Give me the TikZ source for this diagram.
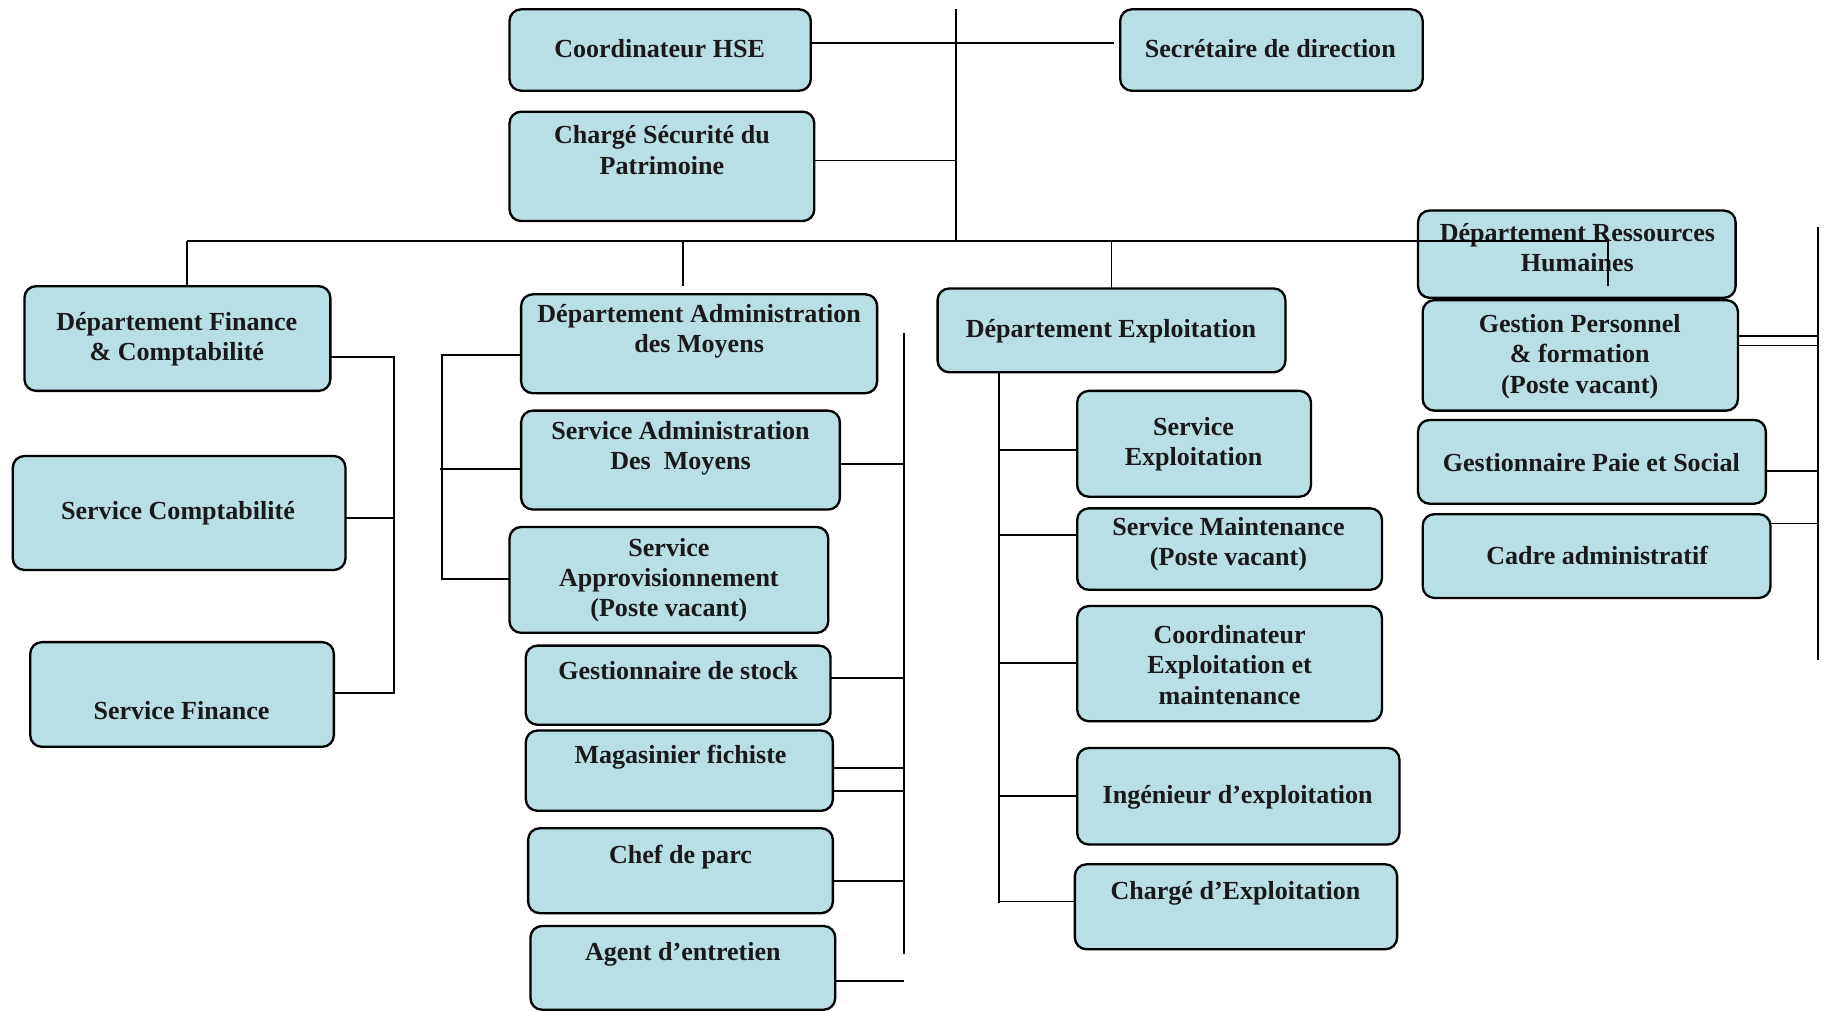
\documentclass[tikz,border=0pt]{standalone}
\usepackage{fontspec}
\setmainfont{Liberation Serif}
\usetikzlibrary{calc}
\definecolor{boxfill}{RGB}{184,224,228}
\tikzset{every picture/.style={line width=0.8pt}}
\tikzset{
  box/.style={draw, fill=boxfill, rounded corners=5pt, line width=1pt, inner sep=0pt, outer sep=0pt},
  txt/.style={align=center, inner sep=0pt, yshift=-0.8pt, font=\fontsize{11.2}{13}\selectfont\bfseries, text=black!90},
}
\begin{document}
\begin{tikzpicture}[x=0.5pt,y=0.5pt,yscale=-1,xscale=1]
    \useasboundingbox (0,0) rectangle (1568,869);

    % Direction
    \node[box, minimum width=129.5pt, minimum height=35pt] (hse) at (567.5,43) {};
    \node[txt] (hse-t) at (567,40) {Coordinateur HSE};
    \node[box, minimum width=130pt, minimum height=35pt] (sec) at (1093,43) {};
    \node[txt] (sec-t) at (1092,40) {Secrétaire de direction};
    \node[box, minimum width=131pt, minimum height=47pt] (csp) at (569,143) {};
    \node[txt] (csp-t) at (569,127.5) {Chargé Sécurité du\\Patrimoine};

    % Finance
    \node[box, minimum width=131.5pt, minimum height=45pt] (dfin) at (152.5,291) {};
    \node[txt] (dfin-t) at (152,290) {Département Finance\\\& Comptabilité};
    \node[box, minimum width=143pt, minimum height=49pt] (scpt) at (154,441) {};
    \node[txt] (scpt-t) at (153,440) {Service Comptabilité};
    \node[box, minimum width=130.5pt, minimum height=45pt] (sfin) at (156.5,597) {};
    \node[txt] (sfin-t) at (156,609) {Service Finance};

    % Administration des moyens
    \node[box, minimum width=153pt, minimum height=42.5pt] (dadm) at (601,295.5) {};
    \node[txt] (dadm-t) at (601,283) {Département Administration\\des Moyens};
    \node[box, minimum width=137pt, minimum height=42.5pt] (sadm) at (585,395.5) {};
    \node[txt] (sadm-t) at (585,383.5) {Service Administration\\Des~~Moyens};
    \node[box, minimum width=137pt, minimum height=45.5pt] (sapp) at (575,498.5) {};
    \node[txt] (sapp-t) at (575,497) {Service\\Approvisionnement\\(Poste vacant)};
    \node[box, minimum width=131pt, minimum height=34pt] (gstk) at (583,589) {};
    \node[txt] (gstk-t) at (583,575) {Gestionnaire de stock};
    \node[box, minimum width=132pt, minimum height=34.5pt] (mag) at (584,662.5) {};
    \node[txt] (mag-t) at (585,649) {Magasinier fichiste};
    \node[box, minimum width=131pt, minimum height=36.5pt] (cpa) at (585,748.5) {};
    \node[txt] (cpa-t) at (585,735) {Chef de parc};
    \node[box, minimum width=131pt, minimum height=36pt] (age) at (587,832) {};
    \node[txt] (age-t) at (587,819) {Agent d’entretien};

    % Exploitation
    \node[box, minimum width=149.5pt, minimum height=36pt] (dexp) at (955.5,284) {};
    \node[txt] (dexp-t) at (955,283) {Département Exploitation};
    \node[box, minimum width=100.5pt, minimum height=45.5pt] (sexp) at (1026.5,381.5) {};
    \node[txt] (sexp-t) at (1026,380) {Service\\Exploitation};
    \node[box, minimum width=131pt, minimum height=35pt] (smnt) at (1057,472) {};
    \node[txt] (smnt-t) at (1056,466.5) {Service Maintenance\\(Poste vacant)};
    \node[box, minimum width=131pt, minimum height=49.5pt] (cem) at (1057,570.5) {};
    \node[txt] (cem-t) at (1057,570) {Coordinateur\\Exploitation et\\maintenance};
    \node[box, minimum width=138.5pt, minimum height=41.5pt] (ing) at (1064.5,684.5) {};
    \node[txt] (ing-t) at (1064,684) {Ingénieur d’exploitation};
    \node[box, minimum width=138.5pt, minimum height=36.5pt] (cex) at (1062.5,779.5) {};
    \node[txt] (cex-t) at (1062,766) {Chargé d’Exploitation};

    % Ressources humaines
    \node[box, minimum width=136.5pt, minimum height=37.5pt] (drh) at (1355.5,218.5) {};
    \node[txt] (drh-t) at (1356,211) {Département Ressources\\Humaines};
    \node[box, minimum width=135.5pt, minimum height=47.5pt] (gpf) at (1358.5,305.5) {};
    \node[txt] (gpf-t) at (1358,305) {Gestion Personnel\\\& formation\\(Poste vacant)};
    \node[box, minimum width=149.5pt, minimum height=36pt] (gps) at (1368.5,397) {};
    \node[txt] (gps-t) at (1368,396) {Gestionnaire Paie et Social};
    \node[box, minimum width=149.5pt, minimum height=36pt] (cadm) at (1372.5,478) {};
    \node[txt] (cadm-t) at (1373,476) {Cadre administratif};

    % Direction links
    \coordinate (dg-top) at (822,8);
    \coordinate (dg-mid) at (822,138);
    \coordinate (dg-bot) at (822,207);
    \coordinate (sec-end) at (958,37);
    \draw (dg-top) -- (dg-bot);
    \draw (hse.east |- sec-end) -- (sec-end);
    \draw (csp.east |- dg-mid) -- (dg-mid);

    % Main bus
    \coordinate (bus-l) at (161,207);
    \coordinate (bus-r) at (1382,207);
    \coordinate (adm-drop) at (587,246);
    \coordinate (rh-drop) at (1382,246);
    \draw[line width=1.1pt] (bus-l) -- (bus-r);
    \draw (bus-l) -- (bus-l |- dfin.north);
    \draw (adm-drop |- bus-l) -- (adm-drop);
    \draw (dexp.north |- bus-l) -- (dexp.north);
    \draw (bus-r) -- (rh-drop);

    % Finance links
    \coordinate (fin-top) at (339,307);
    \coordinate (fin-bot) at (339,596);
    \draw (dfin.east |- fin-top) -- (fin-top) -- (fin-bot) -- (sfin.east |- fin-bot);
    \draw (scpt.east |- 0,445) -- (fin-top |- 0,445);

    % Administration links
    \coordinate (adl-top) at (380,305);
    \coordinate (adl-mid) at (378,403);
    \coordinate (adl-bot) at (380,498);
    \draw (dadm.west |- adl-top) -- (adl-top) -- (adl-bot) -- (sapp.west |- adl-bot);
    \draw (adl-mid) -- (sadm.west |- adl-mid);
    \coordinate (adr-top) at (777,286);
    \coordinate (adr-bot) at (777,820);
    \draw (adr-top) -- (adr-bot);
    \foreach \n/\y in {sadm/399,gstk/583,mag/660,mag/680,cpa/757,age/843}
      \draw (\n.east |- 0,\y) -- (adr-top |- 0,\y);

    % Exploitation links
    \coordinate (exp-bot) at (859,776);
    \draw (dexp.south -| exp-bot) -- (exp-bot);
    \foreach \n/\y in {sexp/387,smnt/460,cem/570,ing/684,cex/775}
      \draw (exp-bot |- 0,\y) -- (\n.west |- 0,\y);

    % RH links
    \coordinate (rh-top) at (1563,195);
    \coordinate (rh-bot) at (1563,567);
    \draw (rh-top) -- (rh-bot);
    \foreach \n/\y in {gpf/289,gpf/297,gps/405,cadm/450}
      \draw (\n.east |- 0,\y) -- (rh-top |- 0,\y);

\end{tikzpicture}
\end{document}
